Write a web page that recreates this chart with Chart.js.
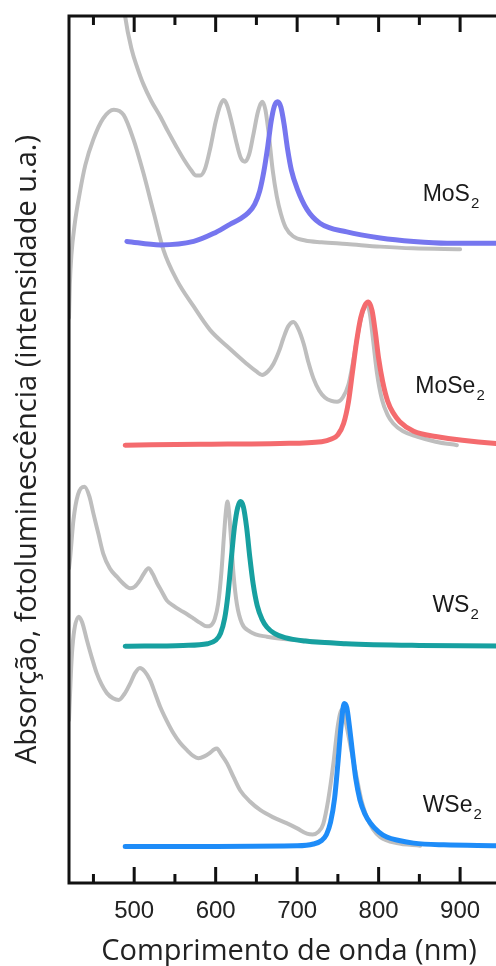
<!DOCTYPE html>
<html lang="pt">
<head>
<meta charset="utf-8">
<title>Absorção e fotoluminescência de TMDs</title>
<script src="https://cdn.jsdelivr.net/npm/chart.js@4/dist/chart.umd.min.js"></script>
<style>
    html, body { margin: 0; padding: 0; background: #fff; overflow: hidden; }
    #wrap { width: 512px; height: 966px; }
</style>
</head>
<body>
<div id="wrap"><canvas id="spectraChart" width="512" height="966"></canvas></div>
<script>
// wavelength (nm) and stacked intensity (a.u., offset per material)
const mos2AbsNm  = [482, 489, 497, 504, 511, 521, 532, 542, 552, 562, 570, 576, 581, 587, 593, 600, 606, 610, 614, 620, 626, 631, 636, 641, 646, 652, 657, 661, 665, 670, 675, 680, 686, 695, 710, 730, 761, 802, 842, 900];
const mos2AbsVal = [10.6, 9.99, 9.61, 9.40, 9.22, 9.02, 8.84, 8.66, 8.49, 8.33, 8.22, 8.16, 8.16, 8.24, 8.46, 8.78, 8.98, 9.03, 8.97, 8.76, 8.52, 8.36, 8.32, 8.40, 8.62, 8.90, 9.01, 8.92, 8.65, 8.22, 7.92, 7.72, 7.56, 7.46, 7.41, 7.39, 7.37, 7.34, 7.32, 7.31];
const mos2PlNm   = [491, 532, 573, 597, 618, 630, 640, 648, 654, 659, 664, 668, 672, 676, 680, 684, 688, 693, 700, 712, 728, 761, 802, 843, 884, 944, 1000];
const mos2PlVal  = [7.40, 7.36, 7.40, 7.49, 7.60, 7.66, 7.73, 7.83, 7.98, 8.20, 8.50, 8.78, 8.96, 9.01, 8.95, 8.75, 8.48, 8.22, 8.01, 7.77, 7.61, 7.51, 7.44, 7.40, 7.38, 7.38, 7.38];

const mose2AbsNm  = [420, 421, 423, 427, 433, 440, 450, 462, 475, 487, 499, 511, 524, 536, 552, 573, 593, 614, 638, 650, 657, 664, 671, 678, 683, 689, 695.5, 701, 708, 714, 720, 727, 734, 742, 749, 756, 763, 768, 773, 778, 782, 785.5, 789, 793, 798, 804, 811, 818, 830, 847, 870, 896];
const mose2AbsVal = [6.52, 6.90, 7.25, 7.60, 7.95, 8.28, 8.58, 8.82, 8.92, 8.86, 8.58, 8.20, 7.73, 7.30, 6.96, 6.65, 6.38, 6.19, 5.99, 5.90, 5.86, 5.90, 5.99, 6.14, 6.28, 6.42, 6.47, 6.40, 6.22, 6.00, 5.82, 5.68, 5.60, 5.56, 5.55, 5.60, 5.75, 5.98, 6.25, 6.50, 6.63, 6.67, 6.58, 6.28, 5.88, 5.58, 5.40, 5.30, 5.21, 5.15, 5.09, 5.05];
const mose2PlNm   = [489, 581, 679, 730, 742, 750, 757, 763, 768, 773, 778, 783, 787.5, 792, 796, 800, 805, 811, 818, 826, 843, 870, 944, 1000];
const mose2PlVal  = [5.05, 5.06, 5.07, 5.09, 5.12, 5.17, 5.30, 5.55, 5.90, 6.25, 6.52, 6.66, 6.70, 6.60, 6.35, 6.05, 5.78, 5.56, 5.42, 5.32, 5.21, 5.15, 5.07, 5.05];

const ws2AbsNm  = [420, 421.5, 425.5, 431, 439, 445, 450, 456, 462, 470, 479, 487, 495, 501, 507, 512, 517.5, 523, 528, 534, 540, 548, 556, 565, 573, 581, 589, 594, 599, 603, 607, 610, 612.5, 614.5, 616.5, 619, 622, 626, 632, 642, 663, 704, 744, 760];
const ws2AbsVal = [3.63, 3.76, 4.19, 4.48, 4.57, 4.46, 4.26, 4.03, 3.80, 3.63, 3.53, 3.45, 3.40, 3.42, 3.49, 3.57, 3.63, 3.56, 3.46, 3.36, 3.26, 3.20, 3.15, 3.10, 3.05, 3.00, 2.96, 2.97, 3.05, 3.22, 3.58, 3.98, 4.28, 4.40, 4.27, 3.95, 3.55, 3.22, 3.00, 2.90, 2.84, 2.80, 2.77, 2.76];
const ws2PlNm   = [489, 560, 590, 600, 606, 611, 615, 619, 623, 627, 630.5, 634, 638, 642, 646, 651, 657, 663, 672, 685, 710, 760, 850, 1000];
const ws2PlVal  = [2.73, 2.74, 2.76, 2.80, 2.88, 3.05, 3.32, 3.72, 4.10, 4.33, 4.40, 4.34, 4.10, 3.75, 3.45, 3.20, 3.04, 2.95, 2.88, 2.83, 2.79, 2.76, 2.74, 2.73];

const wse2AbsNm  = [420, 421.5, 423.5, 426.5, 432, 436, 442, 448, 454, 460, 466.5, 474, 481, 488, 495, 501, 507, 513, 519.5, 526, 532, 540, 548, 556, 565, 572, 579, 586, 593, 598, 601.5, 607, 614, 622, 630, 642, 655, 670, 687, 700, 712, 719, 726, 732, 738, 744.5, 750, 755, 760, 766, 773, 779, 785.5, 793, 802, 822, 851];
const wse2AbsVal = [1.88, 2.23, 2.63, 2.92, 3.07, 3.01, 2.80, 2.60, 2.42, 2.29, 2.19, 2.13, 2.11, 2.18, 2.30, 2.42, 2.48, 2.44, 2.34, 2.18, 2.03, 1.87, 1.73, 1.62, 1.53, 1.47, 1.44, 1.46, 1.50, 1.54, 1.55, 1.48, 1.38, 1.22, 1.07, 0.94, 0.84, 0.76, 0.69, 0.63, 0.57, 0.56, 0.59, 0.68, 0.95, 1.38, 1.82, 2.00, 1.84, 1.55, 1.22, 0.95, 0.76, 0.62, 0.53, 0.46, 0.43];
const wse2PlNm   = [489, 700, 720, 730, 736, 741, 746, 750, 754, 757.7, 761, 764, 768, 772, 777, 783, 790, 800, 810, 825, 843, 880, 944, 1000];
const wse2PlVal  = [0.42, 0.43, 0.45, 0.49, 0.56, 0.70, 0.98, 1.38, 1.82, 2.07, 2.02, 1.82, 1.50, 1.20, 0.96, 0.80, 0.69, 0.59, 0.53, 0.49, 0.46, 0.44, 0.43, 0.42];

// axis ticks (nm)
const majorTicks = [500, 600, 700, 800, 900];
const minorTicks = [450, 550, 650, 750, 850, 950];

// material labels, anchored in data units
const materialNames = ['MoS', 'MoSe', 'WS', 'WSe'];
const labelNm  = [854, 845, 866, 854];
const labelVal = [7.87, 5.65, 3.13, 0.82];

function toPoints(xs, ys) {
    return xs.map(function(x, i) { return { x: x, y: ys[i] }; });
}

const absColor = '#bebebe';

function absSet(xs, ys) {
    return {
        data: toPoints(xs, ys),
        borderColor: absColor,
        borderWidth: 4,
        order: 1
    };
}

function plSet(xs, ys, color) {
    return {
        data: toPoints(xs, ys),
        borderColor: color,
        borderWidth: 5,
        order: 0
    };
}

// frame with inward ticks on top and bottom
const frameTicks = {
    id: 'frameTicks',
    afterDatasetsDraw: function(chart) {
        const ctx = chart.ctx;
        const area = chart.chartArea;
        const xs = chart.scales.x;
        ctx.save();
        ctx.strokeStyle = '#111';
        ctx.lineWidth = 3;
        ctx.lineCap = 'butt';
        ctx.strokeRect(area.left, area.top, area.right - area.left, area.bottom - area.top);

        function drawTicks(list, len) {
            list.forEach(function(v) {
                const px = xs.getPixelForValue(v);
                ctx.beginPath();
                ctx.moveTo(px, area.bottom);
                ctx.lineTo(px, area.bottom - len);
                ctx.moveTo(px, area.top);
                ctx.lineTo(px, area.top + len);
                ctx.stroke();
            });
        }
        drawTicks(majorTicks, 16);
        drawTicks(minorTicks, 9);
        ctx.restore();
    }
};

// chemical formula labels with subscript 2
const formulaLabels = {
    id: 'formulaLabels',
    afterDatasetsDraw: function(chart) {
        const ctx = chart.ctx;
        const xs = chart.scales.x;
        const ys = chart.scales.y;
        ctx.save();
        ctx.fillStyle = '#1a1a1a';
        ctx.textBaseline = 'alphabetic';
        ctx.textAlign = 'left';
        materialNames.forEach(function(name, i) {
            const px = xs.getPixelForValue(labelNm[i]);
            const py = ys.getPixelForValue(labelVal[i]);
            ctx.font = '23px "Liberation Sans", Arial, sans-serif';
            ctx.fillText(name, px, py);
            const w = ctx.measureText(name).width;
            ctx.font = '15px "Liberation Sans", Arial, sans-serif';
            ctx.fillText('2', px + w + 1, py + 7);
        });
        ctx.restore();
    }
};

new Chart(document.getElementById('spectraChart'), {
    type: 'line',
    data: {
        datasets: [
            absSet(mos2AbsNm, mos2AbsVal),
            plSet(mos2PlNm, mos2PlVal, '#7676ef'),
            absSet(mose2AbsNm, mose2AbsVal),
            plSet(mose2PlNm, mose2PlVal, '#f46b6e'),
            absSet(ws2AbsNm, ws2AbsVal),
            plSet(ws2PlNm, ws2PlVal, '#17a0a0'),
            absSet(wse2AbsNm, wse2AbsVal),
            plSet(wse2PlNm, wse2PlVal, '#1e8cf8')
        ]
    },
    options: {
        responsive: false,
        animation: false,
        layout: { padding: { top: 16, right: 3, bottom: 0, left: 0 } },
        elements: {
            point: { radius: 0 },
            line: { cubicInterpolationMode: 'monotone', borderCapStyle: 'round', borderJoinStyle: 'round' }
        },
        plugins: {
            legend: { display: false },
            tooltip: { enabled: false }
        },
        scales: {
            x: {
                type: 'linear',
                min: 420,
                max: 960,
                grid: { display: false, drawTicks: false },
                border: { display: false },
                afterBuildTicks: function(scale) {
                    scale.ticks = majorTicks.map(function(v) { return { value: v }; });
                },
                afterFit: function(scale) {
                    scale.height = 83;
                },
                ticks: {
                    padding: 14,
                    color: '#222',
                    font: { family: '"Liberation Sans", Arial, sans-serif', size: 24 }
                },
                title: {
                    display: true,
                    text: 'Comprimento de onda (nm)',
                    color: '#222',
                    font: { family: '"Open Sans", sans-serif', size: 29, lineHeight: 1 },
                    padding: { top: 0, bottom: 0 }
                }
            },
            y: {
                min: 0,
                max: 10,
                grid: { display: false, drawTicks: false },
                border: { display: false },
                ticks: { display: false },
                afterFit: function(scale) {
                    scale.width = 69;
                },
                title: {
                    display: true,
                    text: 'Absorção, fotoluminescência (intensidade u.a.)',
                    color: '#222',
                    font: { family: '"Open Sans", sans-serif', size: 29, lineHeight: 1 },
                    padding: { top: 13, bottom: 0 }
                }
            }
        }
    },
    plugins: [frameTicks, formulaLabels]
});
</script>
</body>
</html>
